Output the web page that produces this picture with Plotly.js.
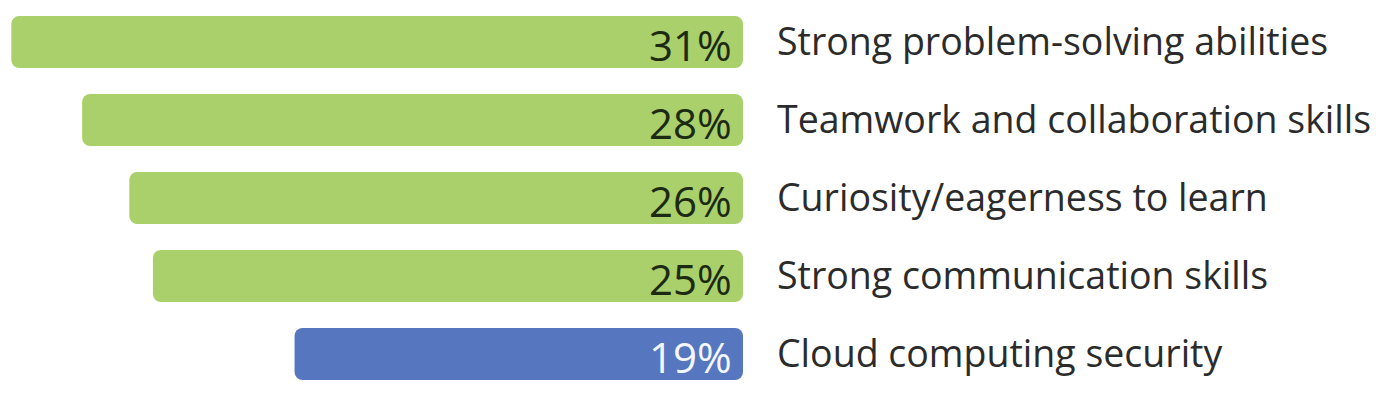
<!DOCTYPE html>
<html>
<head>
<meta charset="utf-8">
<script src="https://cdn.plot.ly/plotly-3.0.1.min.js"></script>
<style>
  html, body { margin: 0; padding: 0; background: #ffffff; }
  #chart { width: 1388px; height: 399px; }
</style>
</head>
<body>
<div id="chart"></div>
<script>
// ---- data ----
const categories = [
  "Strong problem-solving abilities",
  "Teamwork and collaboration skills",
  "Curiosity/eagerness to learn",
  "Strong communication skills",
  "Cloud computing security"
];
const values = [31, 28, 26, 25, 19];
const valueLabels = ["31%", "28%", "26%", "25%", "19%"];

// ---- styles ----
const GREEN = "#a9d06b";
const BLUE = "#5676c0";
const barColors = categories.map((c, i) => i === categories.length - 1 ? BLUE : GREEN);
const textColors = categories.map((c, i) => i === categories.length - 1 ? "#f4f7ff" : "#1c2a12");

// Bars drawn as two overlapping halves so both ends get rounded corners
const innerHalf = {
  type: "bar", orientation: "h",
  y: categories,
  base: values.map(v => v * 0.6),
  x: values.map(v => -v * 0.6),
  width: 0.667,
  marker: { color: barColors, cornerradius: 8, line: { width: 0 } },
  hoverinfo: "skip",
  showlegend: false
};
const outerHalf = {
  type: "bar", orientation: "h",
  y: categories,
  base: values.map(v => v * 0.4),
  x: values.map(v => v * 0.6),
  width: 0.667,
  marker: { color: barColors, cornerradius: 8, line: { width: 0 } },
  customdata: values,
  hovertemplate: "%{y}: %{customdata}%<extra></extra>",
  showlegend: false
};

const annotations = categories.map((c, i) => ({
  x: 0, y: c, xref: "x", yref: "y",
  text: valueLabels[i],
  xanchor: "right", yanchor: "middle",
  xshift: -9, yshift: -2,
  showarrow: false,
  font: { family: "Open Sans, sans-serif", size: 42, color: textColors[i] }
}));

const layout = {
  width: 1388, height: 399,
  margin: { l: 0, r: 645, t: 3, b: 6 },
  paper_bgcolor: "#ffffff",
  plot_bgcolor: "#ffffff",
  barmode: "overlay",
  showlegend: false,
  xaxis: {
    range: [31.48, 0],
    visible: false,
    fixedrange: true
  },
  yaxis: {
    type: "category",
    categoryorder: "array",
    categoryarray: categories,
    autorange: "reversed",
    side: "right",
    showgrid: false, zeroline: false, showline: false,
    ticks: "",
    ticklabelstandoff: 33,
    tickfont: { family: "Open Sans, sans-serif", size: 37.5, color: "#2b2b2b" },
    fixedrange: true
  },
  annotations: annotations
};

Plotly.newPlot("chart", [innerHalf, outerHalf], layout, { displayModeBar: false, staticPlot: true });
</script>
</body>
</html>
